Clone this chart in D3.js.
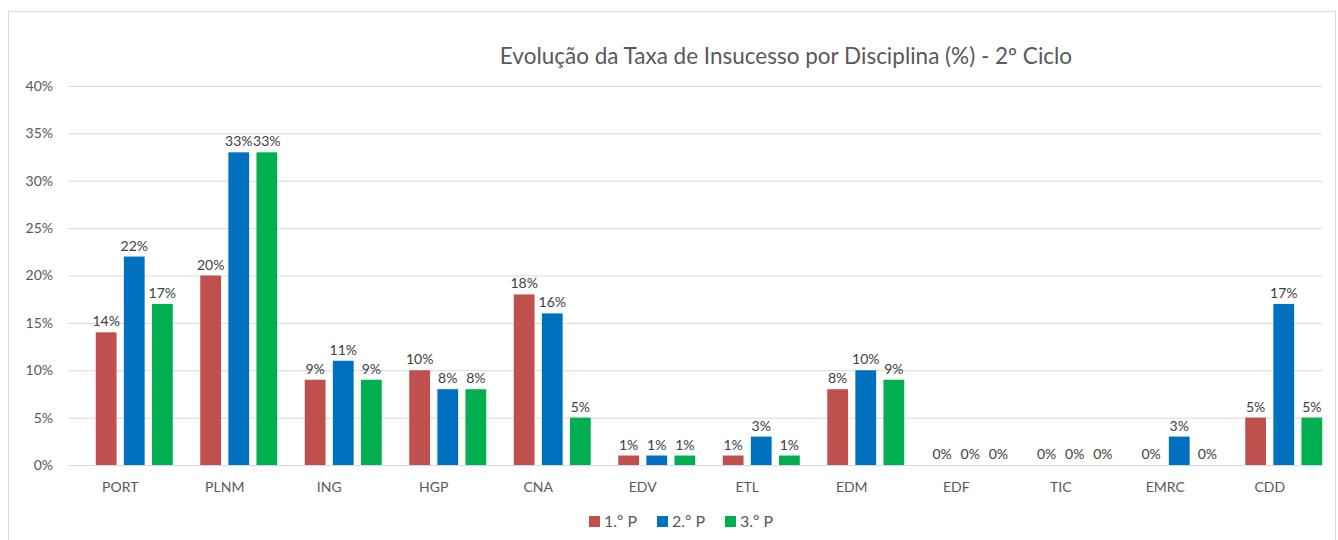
<!DOCTYPE html>
<html><head><meta charset="utf-8">
<script src="https://cdn.jsdelivr.net/npm/d3@7"></script>
<style>body{margin:0;background:#fff;font-family:Lato,"Open Sans",sans-serif;}</style>
</head><body><svg id="c" width="1338" height="540"></svg>
<script>
const categories = ["PORT","PLNM","ING","HGP","CNA","EDV","ETL","EDM","EDF","TIC","EMRC","CDD"];
const seriesNames = ["1.º P","2.º P","3.º P"];
const p1 = [14,20,9,10,18,1,1,8,0,0,0,5];
const p2 = [22,33,11,8,16,1,3,10,0,0,3,17];
const p3 = [17,33,9,8,5,1,1,9,0,0,0,5];
const yTicks = [0,5,10,15,20,25,30,35,40];
const colors = ["#C0504D","#0070C0","#00B050"];
const title = "Evolução da Taxa de Insucesso por Disciplina (%) - 2º Ciclo";

const series = [p1,p2,p3];
const svg = d3.select("#c");
svg.append("rect").attr("x",8.5).attr("y",11.5).attr("width",1327).attr("height",540).attr("fill","#fff").attr("stroke","#D9D9D9");

const L=68,R=1322,T=86,B=465;
const barShift = 14;
const x = d3.scaleBand().domain(categories).range([L,R]);
const x1 = d3.scaleBand().domain(seriesNames).range([-38.5,38.5]).paddingInner(0.26);
const y = d3.scaleLinear().domain([0,40]).range([B,T]);

svg.append("g").selectAll("line").data(yTicks).join("line")
  .attr("x1",L).attr("x2",R).attr("y1",d=>y(d)+0.5).attr("y2",d=>y(d)+0.5)
  .attr("stroke","#D9D9D9").attr("stroke-width",1);
svg.append("g").selectAll("text").data(yTicks).join("text")
  .attr("x",53).attr("y",d=>y(d)).attr("dy","0.35em").attr("text-anchor","end")
  .attr("font-size",14).attr("fill","#595959").text(d=>d+"%");

svg.append("g").selectAll("text").data(categories).join("text")
  .attr("x",d=>x(d)+x.bandwidth()/2).attr("y",492).attr("text-anchor","middle")
  .attr("font-size",14).attr("fill","#595959").text(d=>d);

series.forEach((vals,si)=>{
  const g = svg.append("g");
  const data = categories.map((c,i)=>({c,v:vals[i]}));
  const bx = d=>x(d.c)+x.bandwidth()/2+barShift+x1(seriesNames[si]);
  g.selectAll("rect").data(data).join("rect")
    .attr("x",bx)
    .attr("width",x1.bandwidth())
    .attr("y",d=>y(d.v)).attr("height",d=>y(0)-y(d.v))
    .attr("fill",colors[si]);
  g.selectAll("text").data(data).join("text")
    .attr("x",d=>bx(d)+x1.bandwidth()/2)
    .attr("y",d=>y(d.v)-6).attr("text-anchor","middle")
    .attr("font-size",14).attr("fill","#404040").text(d=>d.v+"%");
});

svg.append("text").attr("x",786).attr("y",64).attr("text-anchor","middle")
  .attr("font-size",22.5).attr("fill","#595959").text(title);

const lg = svg.append("g");
const lx = [589,657,725];
seriesNames.forEach((n,i)=>{
  lg.append("rect").attr("x",lx[i]).attr("y",516).attr("width",11).attr("height",11).attr("fill",colors[i]);
  lg.append("text").attr("x",lx[i]+15).attr("y",527).attr("font-size",16).attr("fill","#595959").text(n);
});
</script></body></html>
